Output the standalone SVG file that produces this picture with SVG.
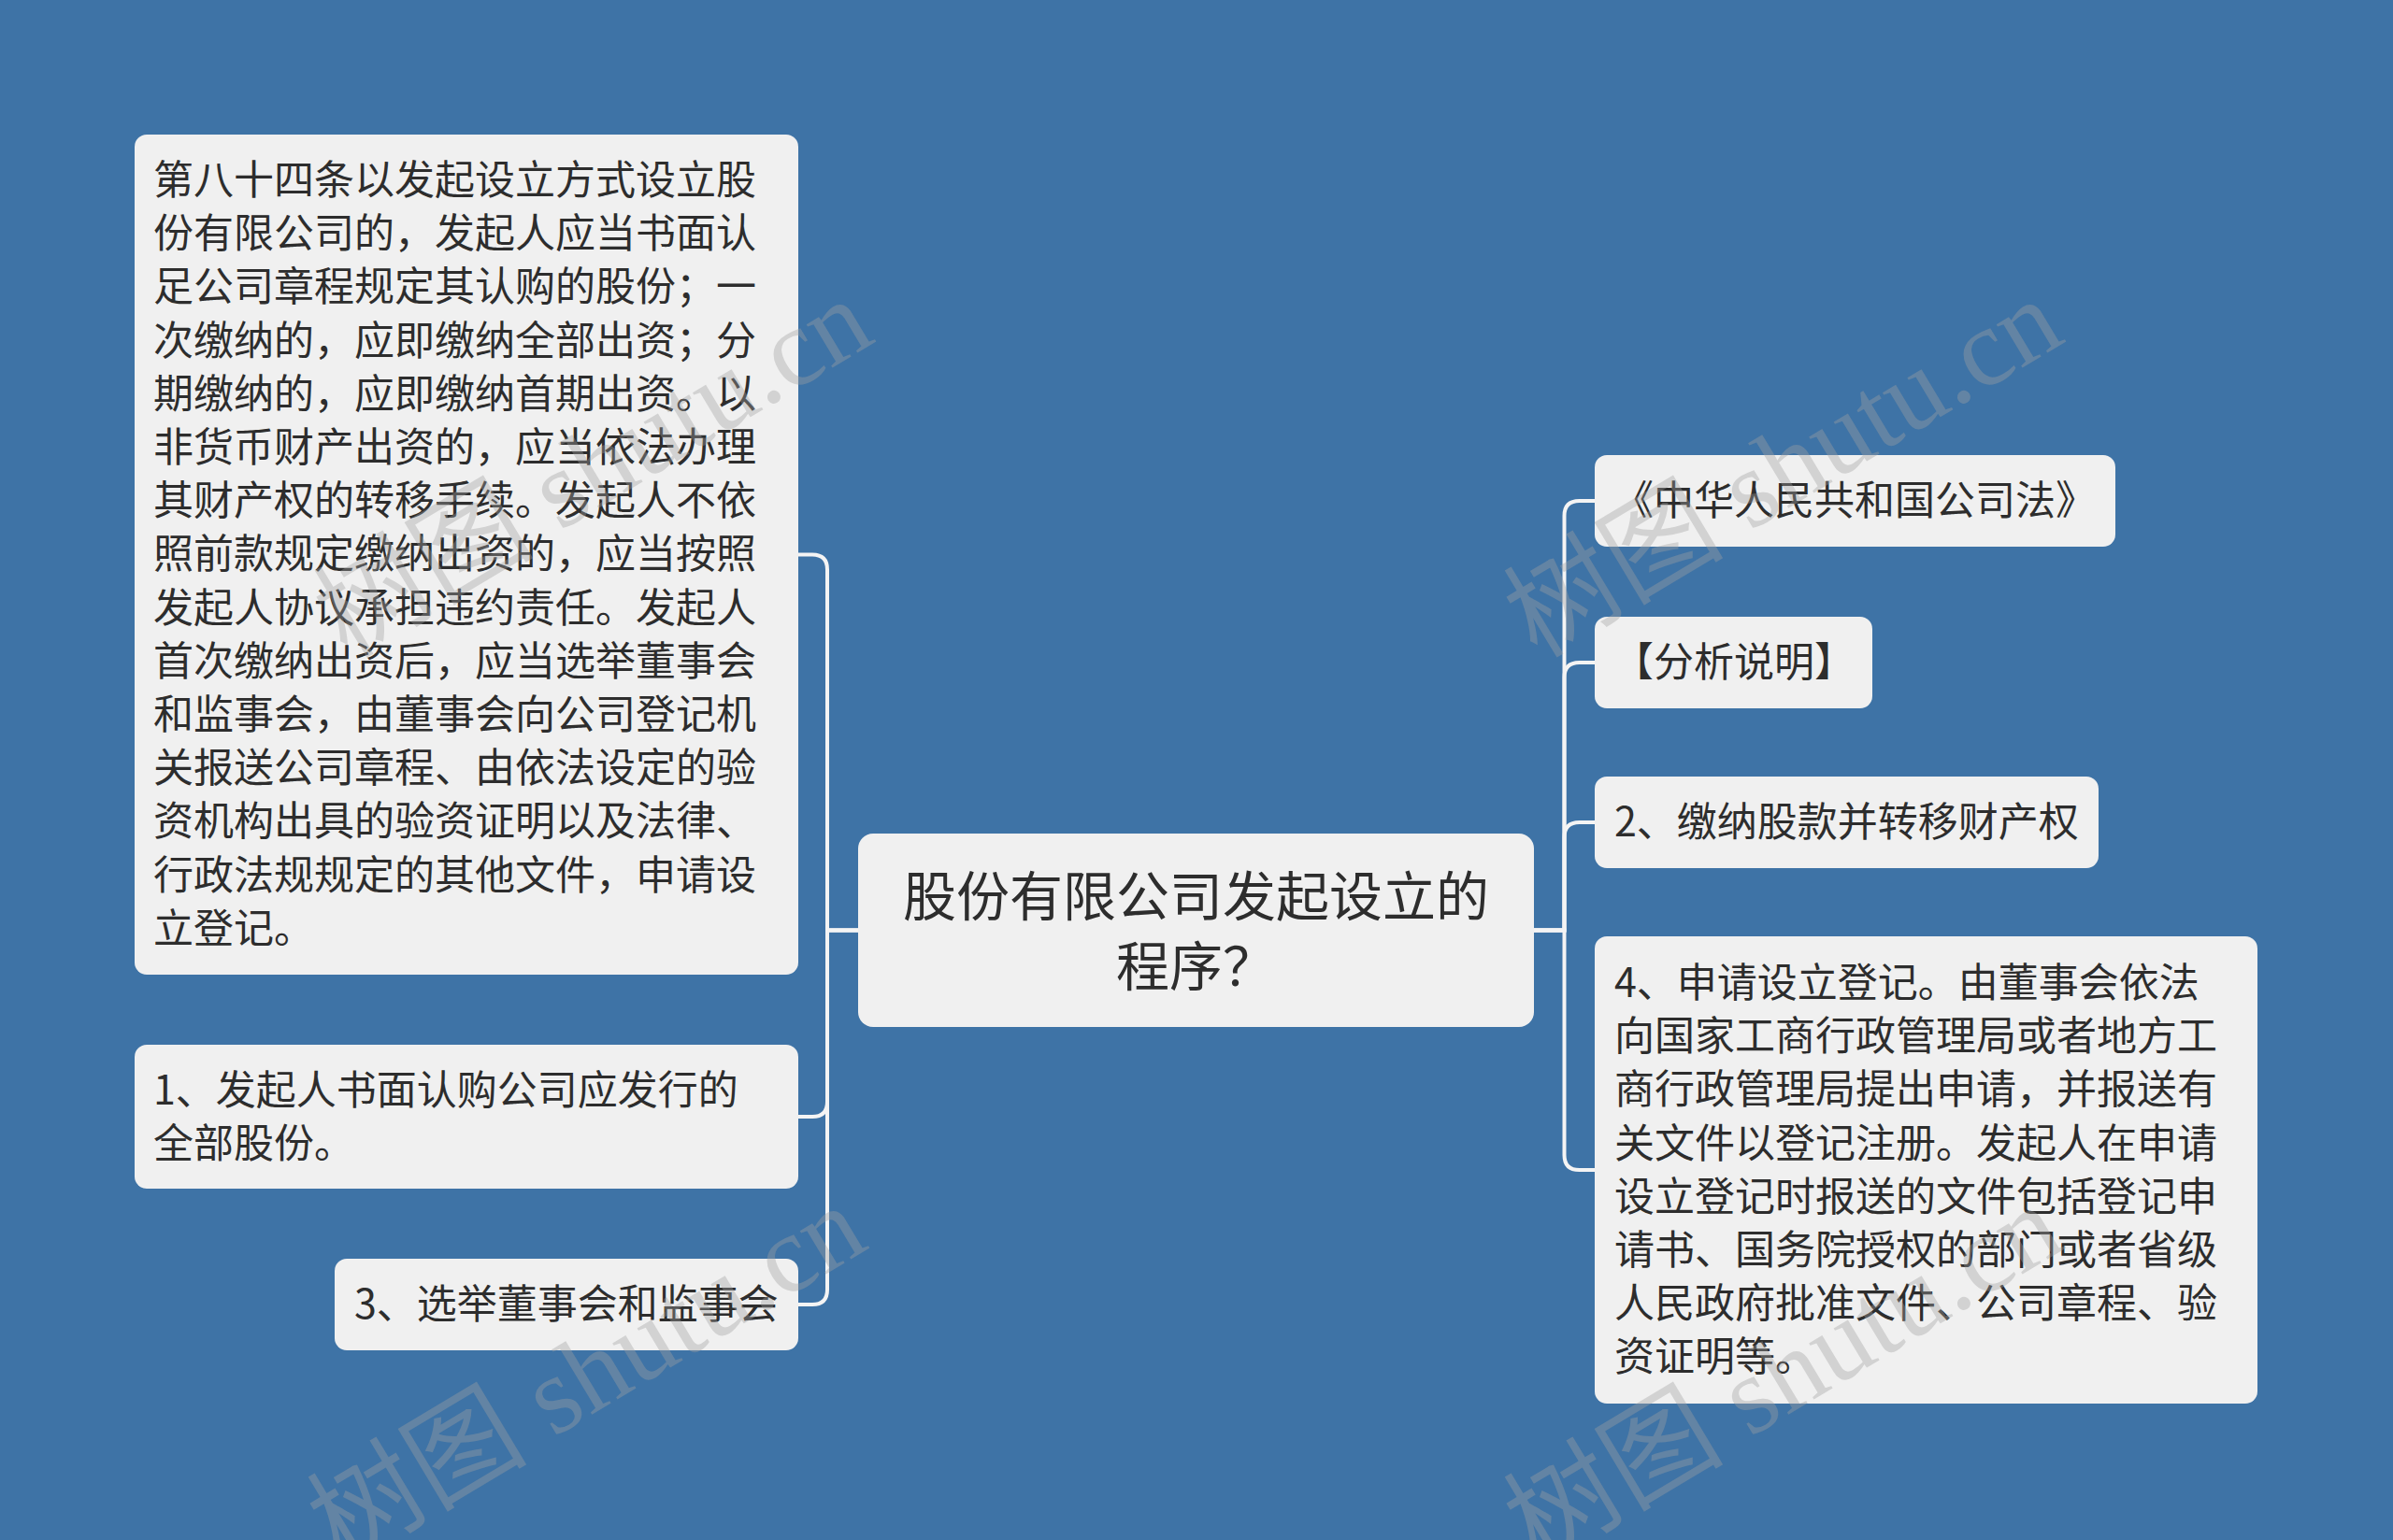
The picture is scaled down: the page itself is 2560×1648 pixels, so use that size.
<svg xmlns="http://www.w3.org/2000/svg" width="2560" height="1648" viewBox="0 0 2560 1648">
<style>
.bg{fill:#3e73a6}
.box{fill:#f0f0f0}
.t{font-family:"Noto Sans CJK SC","Noto Sans",sans-serif;fill:#2d2d2d;font-size:43px}
.tc{font-family:"Noto Sans CJK SC","Noto Sans",sans-serif;fill:#2d2d2d;font-size:57px;text-anchor:middle}
.c{fill:none;stroke:#f4f4f4;stroke-width:4}
.wm{font-family:"Liberation Serif","Noto Sans CJK SC",serif;font-size:118px;fill:#a0a0a0;fill-opacity:0.38;text-anchor:middle}
</style>
<rect class="bg" x="0" y="0" width="2560" height="1648"/>
<g id="connectors">
<path class="c" d="M918,995.5 H885 V609.5 Q885,593.5 869,593.5 H854"/>
<path class="c" d="M918,995.5 H885 V1179 Q885,1195 869,1195 H854"/>
<path class="c" d="M918,995.5 H885 V1380 Q885,1396 869,1396 H854"/>
<path class="c" d="M1641,995.5 H1673.5 V552 Q1673.5,536 1689.5,536 H1706"/>
<path class="c" d="M1641,995.5 H1673.5 V725 Q1673.5,709 1689.5,709 H1706"/>
<path class="c" d="M1641,995.5 H1673.5 V896 Q1673.5,880 1689.5,880 H1706"/>
<path class="c" d="M1641,995.5 H1673.5 V1236 Q1673.5,1252 1689.5,1252 H1706"/>
</g>
<g id="center">
<rect class="box" x="918" y="892" width="723" height="207" rx="16"/>
<text class="tc" x="1279.5" y="980">股份有限公司发起设立的</text>
<text class="tc" x="1279.5" y="1055">程序？</text>
</g>
<g id="left1">
<rect class="box" x="144" y="144" width="710" height="899" rx="13"/>
<text class="t" x="164">
<tspan x="164" y="208">第八十四条以发起设立方式设立股</tspan>
<tspan x="164" y="265.2">份有限公司的，发起人应当书面认</tspan>
<tspan x="164" y="322.4">足公司章程规定其认购的股份；一</tspan>
<tspan x="164" y="379.6">次缴纳的，应即缴纳全部出资；分</tspan>
<tspan x="164" y="436.8">期缴纳的，应即缴纳首期出资。以</tspan>
<tspan x="164" y="494">非货币财产出资的，应当依法办理</tspan>
<tspan x="164" y="551.2">其财产权的转移手续。发起人不依</tspan>
<tspan x="164" y="608.4">照前款规定缴纳出资的，应当按照</tspan>
<tspan x="164" y="665.6">发起人协议承担违约责任。发起人</tspan>
<tspan x="164" y="722.8">首次缴纳出资后，应当选举董事会</tspan>
<tspan x="164" y="780">和监事会，由董事会向公司登记机</tspan>
<tspan x="164" y="837.2">关报送公司章程、由依法设定的验</tspan>
<tspan x="164" y="894.4">资机构出具的验资证明以及法律、</tspan>
<tspan x="164" y="951.6">行政法规规定的其他文件，申请设</tspan>
<tspan x="164" y="1008.8">立登记。</tspan>
</text>
</g>
<g id="left2">
<rect class="box" x="144" y="1118" width="710" height="154" rx="13"/>
<text class="t"><tspan x="164" y="1182">1、发起人书面认购公司应发行的</tspan><tspan x="164" y="1239">全部股份。</tspan></text>
</g>
<g id="left3">
<rect class="box" x="358" y="1347" width="496" height="98" rx="13"/>
<text class="t" x="379" y="1411">3、选举董事会和监事会</text>
</g>
<g id="right1">
<rect class="box" x="1706" y="487" width="557" height="98" rx="13"/>
<text class="t" x="1726" y="551">《中华人民共和国公司法》</text>
</g>
<g id="right2">
<rect class="box" x="1706" y="660" width="297" height="98" rx="13"/>
<text class="t" x="1726" y="724">【分析说明】</text>
</g>
<g id="right3">
<rect class="box" x="1706" y="831" width="539" height="98" rx="13"/>
<text class="t" x="1727" y="895">2、缴纳股款并转移财产权</text>
</g>
<g id="right4">
<rect class="box" x="1706" y="1002" width="709" height="500" rx="13"/>
<text class="t">
<tspan x="1727" y="1067">4、申请设立登记。由董事会依法</tspan>
<tspan x="1727" y="1124.2">向国家工商行政管理局或者地方工</tspan>
<tspan x="1727" y="1181.4">商行政管理局提出申请，并报送有</tspan>
<tspan x="1727" y="1238.6">关文件以登记注册。发起人在申请</tspan>
<tspan x="1727" y="1295.8">设立登记时报送的文件包括登记申</tspan>
<tspan x="1727" y="1353">请书、国务院授权的部门或者省级</tspan>
<tspan x="1727" y="1410.2">人民政府批准文件、公司章程、验</tspan>
<tspan x="1727" y="1467.4">资证明等。</tspan>
</text>
</g>
<g id="watermarks">
<text class="wm" transform="translate(655,535) rotate(-31)">树图 shutu.cn</text>
<text class="wm" transform="translate(1928,535) rotate(-31)">树图 shutu.cn</text>
<text class="wm" transform="translate(648,1505) rotate(-31)">树图 shutu.cn</text>
<text class="wm" transform="translate(1928,1505) rotate(-31)">树图 shutu.cn</text>
</g>
</svg>
